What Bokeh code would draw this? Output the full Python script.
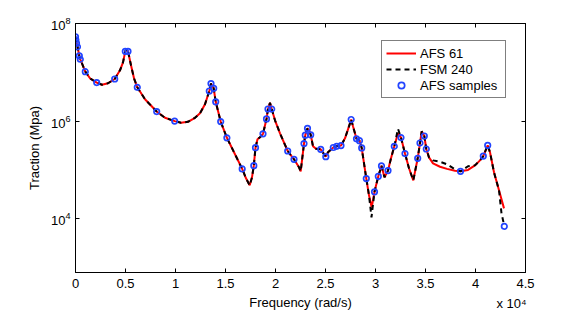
from bokeh.plotting import figure
from bokeh.models import (Range1d, FixedTicker, LinearAxis, LogAxis, Legend, LegendItem,
                          CustomJSTickFormatter)
from bokeh.embed import file_html
from bokeh.resources import INLINE

# ---------------- data ----------------
afs_x = [0, 100, 200, 380, 480, 980, 1450, 2120, 2650, 3250,
         3920, 4450, 4750, 4980, 5100, 5250, 5550, 5850, 6180, 6950,
         8120, 8950, 9920, 10550, 11250, 11950, 12450, 12950, 13380, 13550,
         13820, 14020, 14520, 15140, 15850, 16670, 17050, 17420, 17650, 17830,
         18000, 18200, 18450, 18750, 19100, 19250, 19450, 19620, 19950, 20450,
         21220, 21850, 22350, 22520, 22650, 22850, 22980, 23200, 23400, 23520,
         23750, 24050, 24520, 25030, 25250, 25780, 26120, 26550, 26950, 27350,
         27570, 27750, 28100, 28400, 28620, 29080, 29350, 29620, 29900, 30280,
         30600, 30900, 31250, 31550, 31880, 32250, 32550, 32950, 33350, 33780,
         34220, 34450, 34620, 34880, 35080, 35350, 35750, 36450, 37150, 37950,
         38500, 39250, 39950, 40450, 40780, 41220, 41450, 41850, 42350, 42850]
afs_y = [5.34e7, 3.93e7, 3.33e7, 2.18e7, 1.85e7, 1.03e7, 7.54e6, 6.15e6, 5.55e6, 5.96e6,
         7.29e6, 1.10e7, 1.60e7, 2.69e7, 2.96e7, 2.69e7, 1.39e7, 7.54e6, 4.93e6, 2.80e6,
         1.57e6, 1.17e6, 1.00e6, 9.23e5, 9.68e5, 1.17e6, 1.45e6, 2.21e6, 4.14e6, 5.87e6,
         4.70e6, 2.49e6, 9.77e5, 4.55e5, 2.30e5, 1.05e5, 6.73e4, 4.83e4, 7.05e4, 1.22e5,
         2.86e5, 4.24e5, 4.66e5, 5.50e5, 1.11e6, 1.77e6, 2.37e6, 1.77e6, 1.04e6, 5.62e5,
         2.44e5, 1.65e5, 1.13e5, 9.36e4, 1.57e5, 3.46e5, 5.16e5, 7.11e5, 6.18e5, 5.24e5,
         3.05e5, 2.70e5, 2.64e5, 1.87e5, 2.30e5, 2.88e5, 3.05e5, 3.16e5, 4.44e5, 7.82e5,
         1.08e6, 7.82e5, 4.34e5, 3.98e5, 2.82e5, 6.64e4, 3.02e4, 1.71e4, 3.56e4, 7.40e4,
         1.21e5, 7.05e4, 9.68e4, 1.73e5, 3.05e5, 5.62e5, 4.59e5, 2.16e5, 1.08e5, 6.12e4,
         1.73e5, 3.56e5, 6.18e5, 4.95e5, 2.68e5, 1.81e5, 1.36e5, 1.16e5, 1.05e5, 9.59e4,
         9.36e4, 1.00e5, 1.24e5, 1.57e5, 1.92e5, 3.19e5, 2.30e5, 8.93e4, 3.82e4, 1.63e4]

fsm_x = [0, 100, 200, 380, 480, 980, 1450, 2120, 2650, 3250,
         3920, 4450, 4750, 4980, 5100, 5250, 5550, 5850, 6180, 6950,
         8120, 8950, 9920, 10550, 11250, 11950, 12450, 12950, 13380, 13550,
         13820, 14020, 14520, 15140, 15850, 16670, 17050, 17420, 17650, 17830,
         18000, 18200, 18450, 18750, 19100, 19250, 19450, 19620, 19950, 20450,
         21220, 21850, 22350, 22520, 22650, 22850, 22980, 23200, 23400, 23520,
         23750, 24050, 24520, 25030, 25250, 25780, 26120, 26550, 26950, 27350,
         27570, 27750, 28100, 28400, 28620, 29080, 29350, 29600, 29900, 30280,
         30600, 30900, 31250, 31550, 31880, 32250, 32550, 32950, 33350, 33780,
         34220, 34450, 34620, 34880, 35080, 35350, 35750, 36450, 37150, 37950,
         38500, 39250, 39950, 40450, 40780, 41220, 41450, 41850, 42350, 42600, 42800]
fsm_y = [5.34e7, 3.93e7, 3.33e7, 2.18e7, 1.85e7, 1.03e7, 7.54e6, 6.15e6, 5.55e6, 5.96e6,
         7.29e6, 1.10e7, 1.60e7, 2.69e7, 2.96e7, 2.69e7, 1.39e7, 7.54e6, 4.93e6, 2.80e6,
         1.57e6, 1.17e6, 1.00e6, 9.23e5, 9.68e5, 1.17e6, 1.45e6, 2.21e6, 4.14e6, 5.87e6,
         4.70e6, 2.49e6, 9.77e5, 4.55e5, 2.30e5, 1.05e5, 6.73e4, 4.83e4, 7.05e4, 1.22e5,
         2.86e5, 4.24e5, 4.66e5, 5.50e5, 1.11e6, 1.77e6, 2.37e6, 1.77e6, 1.04e6, 5.62e5,
         2.44e5, 1.65e5, 1.13e5, 9.36e4, 1.57e5, 3.46e5, 5.16e5, 7.11e5, 6.18e5, 5.24e5,
         3.05e5, 2.70e5, 2.64e5, 1.87e5, 2.30e5, 2.88e5, 3.05e5, 3.16e5, 4.44e5, 7.82e5,
         1.08e6, 7.82e5, 4.34e5, 3.98e5, 2.82e5, 6.64e4, 3.02e4, 1.07e4, 3.56e4, 7.40e4,
         1.21e5, 7.05e4, 9.68e4, 1.73e5, 3.05e5, 6.95e5, 4.59e5, 2.16e5, 1.08e5, 6.12e4,
         1.73e5, 3.56e5, 6.18e5, 4.95e5, 2.68e5, 1.81e5, 1.57e5, 1.47e5, 1.30e5, 1.03e5,
         9.36e4, 1.19e5, 1.24e5, 1.57e5, 1.92e5, 3.19e5, 2.30e5, 8.93e4, 3.82e4, 1.29e4, 8.44e3]

samples_x = [0, 40, 100, 200, 380, 480, 980, 2120, 3920, 4980, 5250, 6180, 8120, 9920,
             13380, 13550, 13820, 14020, 14520, 15140, 16670, 17830, 18000, 18750, 19100,
             19250, 19620, 21220, 21850, 22850, 22980, 23200, 23520, 24520, 25030, 25780,
             26120, 26550, 27570, 28100, 28400, 28620, 29080, 29900, 30280, 30600, 31250,
             31880, 32550, 32950, 34220, 34450, 34880, 35080, 38500, 40780, 41220, 42880]
samples_y = [5.34e7, 4.63e7, 3.93e7, 3.33e7, 2.18e7, 1.85e7, 1.03e7, 6.15e6, 7.29e6, 2.69e7,
             2.69e7, 4.93e6, 1.57e6, 1.00e6, 4.14e6, 5.87e6, 4.70e6, 2.49e6, 9.77e5, 4.55e5,
             1.05e5, 1.22e5, 2.86e5, 5.50e5, 1.11e6, 1.77e6, 1.77e6, 2.44e5, 1.65e5, 3.46e5,
             5.16e5, 7.11e5, 5.24e5, 2.64e5, 1.87e5, 2.88e5, 3.05e5, 3.16e5, 1.08e6, 4.34e5,
             3.98e5, 2.82e5, 6.64e4, 3.56e4, 7.40e4, 1.21e5, 9.68e4, 3.05e5, 4.59e5, 2.16e5,
             1.73e5, 3.56e5, 4.95e5, 2.68e5, 9.36e4, 1.92e5, 3.19e5, 6.98e3]

x_ticks = [0, 5000, 10000, 15000, 20000, 25000, 30000, 35000, 40000, 45000]
x_tick_labels = ["0", "0.5", "1", "1.5", "2", "2.5", "3", "3.5", "4", "4.5"]
y_ticks = [1e4, 1e6, 1e8]
x_multiplier_label = "x 10\u2074"

FONT = "Liberation Sans"
FS = "13px"

p = figure(frame_width=450, frame_height=249,
           x_range=Range1d(0, 45000), y_range=Range1d(791, 1e8),
           y_axis_type="log", output_backend="svg", toolbar_location=None,
           min_border_left=75, min_border_right=40, min_border_top=23, min_border_bottom=45)
p.background_fill_color = "white"
p.border_fill_color = "white"
p.outline_line_color = "black"
p.xgrid.visible = False
p.ygrid.visible = False

r_afs = p.line(afs_x, afs_y, line_color="#ff0000", line_width=2)
r_fsm = p.line(fsm_x, fsm_y, line_color="#000000", line_width=2, line_dash="5 4")
r_smp = p.scatter(samples_x, samples_y, marker="circle", size=5.5, line_width=1.7,
                  line_color="#2244ff", fill_color=None)

def style_axis(ax):
    ax.axis_line_color = "black"
    ax.major_tick_line_color = "black"
    ax.major_tick_in = 4
    ax.major_tick_out = 0
    ax.minor_tick_in = 0
    ax.minor_tick_out = 0
    ax.major_label_text_font = FONT
    ax.major_label_text_font_size = FS
    ax.major_label_text_color = "black"
    ax.axis_label_text_font = FONT
    ax.axis_label_text_font_size = FS
    ax.axis_label_text_font_style = "normal"
    ax.axis_label_text_color = "black"

xa = p.xaxis[0]
xa.ticker = FixedTicker(ticks=x_ticks)
xa.major_label_overrides = dict(zip(x_ticks, x_tick_labels))
xa.axis_label = "Frequency (rad/s)"
style_axis(xa)
xa.major_label_standoff = 6
xa.axis_label_standoff = 4

# multiplier "x 10^4" shown under the right end of the x axis
mult_tick = 43600
xm = LinearAxis(ticker=FixedTicker(ticks=[mult_tick]))
style_axis(xm)
xm.major_label_overrides = {mult_tick: x_multiplier_label}
xm.axis_line_color = None
xm.major_tick_line_color = None
xm.major_label_standoff = -17
p.add_layout(xm, "below")

ya = p.yaxis[0]
ya.ticker = FixedTicker(ticks=y_ticks)
ya.axis_label = "Traction (Mpa)"
style_axis(ya)
ya.major_label_standoff = 5
ya.axis_label_standoff = 6

blank = CustomJSTickFormatter(code="return ''")
top = LinearAxis(ticker=FixedTicker(ticks=x_ticks), formatter=blank)
style_axis(top)
top.major_label_standoff = 0
p.add_layout(top, "above")
right = LogAxis(ticker=FixedTicker(ticks=y_ticks), formatter=blank)
style_axis(right)
right.major_label_standoff = 0
p.add_layout(right, "right")

legend = Legend(items=[LegendItem(label="AFS 61", renderers=[r_afs]),
                       LegendItem(label="FSM 240", renderers=[r_fsm]),
                       LegendItem(label="AFS samples", renderers=[r_smp])],
                location=(306, 174))
legend.label_text_font = FONT
legend.label_text_font_size = FS
legend.label_text_color = "black"
legend.border_line_color = "black"
legend.border_line_width = 1
legend.background_fill_color = "white"
legend.background_fill_alpha = 1
legend.padding = 4
legend.spacing = 0
legend.margin = 0
legend.glyph_width = 30
legend.glyph_height = 16
legend.label_height = 16
legend.label_width = 81
legend.label_standoff = 4
p.add_layout(legend, "center")

open("out.html", "w").write(file_html(p, INLINE))
